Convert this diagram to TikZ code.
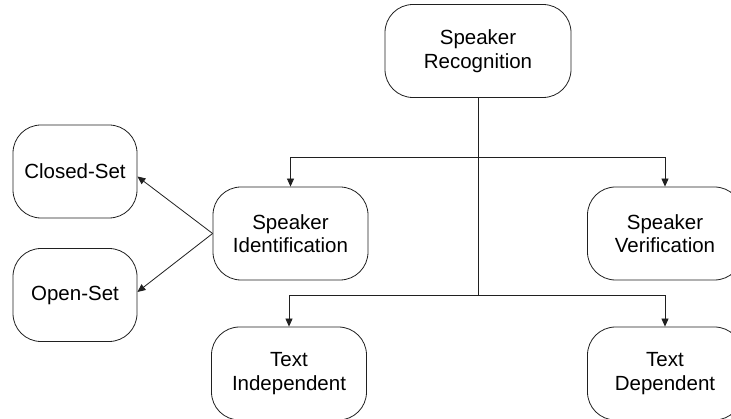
\documentclass[tikz,border=0pt]{standalone}
\usepackage{fontspec}
\setmainfont{Liberation Sans}
\usepackage{tikz}
\usetikzlibrary{arrows.meta, positioning, calc}
\definecolor{srline}{HTML}{202020}

\begin{document}
\begin{tikzpicture}[
  x=1pt, y=-1pt,
  every node/.style={font=\fontsize{20.5}{23.5}\selectfont},
  block/.style={draw=srline, line width=0.8pt, rounded corners=28pt, align=center, minimum height=93pt},
  wide block/.append style={block, minimum width=155pt},
  side block/.append style={block, minimum width=124pt},
  link/.style={draw=srline, line width=0.8pt, -{Triangle[length=8pt, width=7pt]}}
]
\useasboundingbox (0,0) rectangle (731,419);
\node[block, minimum width=186pt] (recog) at (478,51) {Speaker\\Recognition};
\node[wide block] (ident) at (290.5,233.5) {Speaker\\Identification};
\node[wide block] (verif) at (665,233.5) {Speaker\\Verification};
\node[wide block] (indep) at (289,373.5) {Text\\Independent};
\node[wide block] (dep) at (665,373.5) {Text\\Dependent};
\node[side block] (closed) at (75,171.5) {Closed-Set};
\node[side block] (open) at (75,295) {Open-Set};
\coordinate (upper) at (478,157);
\coordinate (lower) at (478,295);
% trunk and branches
\draw[draw=srline, line width=0.8pt] (recog) -- (lower);
\draw[link] (upper) -| (ident);
\draw[link] (upper) -| (verif);
\draw[link] (lower) -| (indep);
\draw[link] (lower) -| (dep);
% identification subsets
\draw[link] (ident.west) -- ([yshift=-5pt]closed.east);
\draw[link] (ident.west) -- ([yshift=3pt]open.east);
\end{tikzpicture}
\end{document}
